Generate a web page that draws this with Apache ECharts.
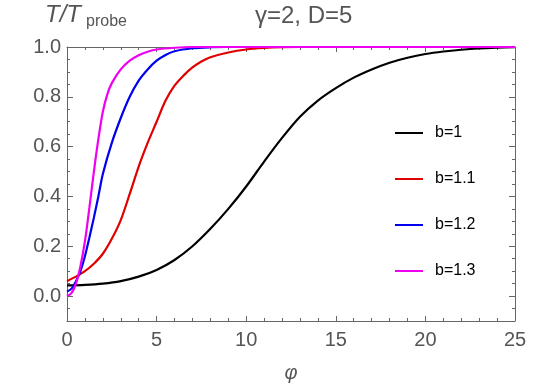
<!DOCTYPE html>
<html>
<head>
<meta charset="utf-8">
<script src="https://cdn.jsdelivr.net/npm/echarts@6/dist/echarts.min.js"></script>
<style>
  html, body { margin: 0; padding: 0; background: #fff; }
  #chart { width: 540px; height: 388px; }
</style>
</head>
<body>
<div id="chart"></div>
<script>
// values, [phi, T/Tprobe]
var seriesNames = ['b=1', 'b=1.1', 'b=1.2', 'b=1.3'];
var seriesColors = ['#000000', '#e00000', '#0000f0', '#f000f0'];

var curveB10 = [[0, 0.043], [1, 0.045], [2, 0.05], [3, 0.06], [4, 0.078], [5, 0.105], [6, 0.145],
  [7, 0.2], [8, 0.27], [9, 0.35], [10, 0.44], [11, 0.54], [12, 0.635], [13, 0.72], [14, 0.785],
  [15, 0.835], [16, 0.877], [17, 0.91], [18, 0.937], [19, 0.957], [20, 0.972], [21, 0.982],
  [22, 0.989], [23, 0.994], [24, 0.997], [25, 0.999]];
var curveB11 = [[0, 0.06], [0.5, 0.078], [1, 0.1], [1.5, 0.13], [2, 0.17], [2.5, 0.23], [3, 0.305],
  [3.5, 0.41], [4, 0.52], [4.5, 0.615], [5, 0.7], [5.5, 0.785], [6, 0.845], [6.5, 0.885], [7, 0.918],
  [7.5, 0.942], [8, 0.959], [9, 0.978], [10, 0.99], [11, 0.996], [12, 0.999], [13, 1], [25, 1]];
var curveB12 = [[0, 0.018], [0.25, 0.03], [0.5, 0.06], [0.75, 0.1], [1, 0.16], [1.25, 0.235],
  [1.5, 0.315], [1.75, 0.4], [2, 0.49], [2.5, 0.615], [3, 0.715], [3.5, 0.8], [4, 0.865], [4.5, 0.91],
  [5, 0.945], [5.5, 0.968], [6, 0.983], [7, 0.995], [8, 0.999], [9, 1], [25, 1]];
var curveB13 = [[0, 0.0], [0.25, 0.012], [0.5, 0.05], [0.75, 0.12], [1, 0.22], [1.25, 0.355],
  [1.5, 0.5], [1.75, 0.63], [2, 0.74], [2.25, 0.81], [2.5, 0.855], [3, 0.91], [3.5, 0.945], [4, 0.967],
  [4.5, 0.981], [5, 0.99], [6, 0.997], [7, 1], [25, 1]];
var curves = [curveB10, curveB11, curveB12, curveB13];

// axis ticks
var yMajorTicks = [0, 0.2, 0.4, 0.6, 0.8, 1.0];
var yMinorTicks = [-0.05, 0.05, 0.1, 0.15, 0.25, 0.3, 0.35, 0.45, 0.5, 0.55, 0.65, 0.7, 0.75, 0.85, 0.9, 0.95];

var frameColor = '#666666';
var textColor = '#555555';
var fontFamily = '"Liberation Sans", Arial, sans-serif';

var chart = echarts.init(document.getElementById('chart'), null, { renderer: 'canvas' });

function makeXAxis(pos, showLabel) {
  return {
    type: 'value',
    position: pos,
    min: 0,
    max: 25,
    interval: 5,
    name: showLabel ? 'φ' : '',
    nameLocation: 'middle',
    nameGap: 42,
    nameTextStyle: { fontSize: 20, fontStyle: 'italic', color: textColor, fontFamily: fontFamily },
    axisLine: { show: true, onZero: false, lineStyle: { color: frameColor, width: 1 } },
    axisTick: { show: true, inside: true, length: 5, lineStyle: { color: frameColor } },
    minorTick: { show: true, splitNumber: 5, length: 3, lineStyle: { color: frameColor } },
    axisLabel: { show: showLabel, margin: 9, fontSize: 20, color: textColor, fontFamily: fontFamily },
    splitLine: { show: false },
    minorSplitLine: { show: false }
  };
}

function makeYAxis(pos, ticks, len, showLine, showLabel) {
  return {
    type: 'value',
    position: pos,
    min: -0.1,
    max: 1.0,
    axisLine: { show: showLine, onZero: false, lineStyle: { color: frameColor, width: 1 } },
    axisTick: { show: true, inside: true, length: len, customValues: ticks, lineStyle: { color: frameColor } },
    axisLabel: {
      show: showLabel,
      customValues: ticks,
      margin: 6,
      fontSize: 20,
      color: textColor,
      fontFamily: fontFamily,
      formatter: function (v) { return Number(v).toFixed(1); }
    },
    splitLine: { show: false }
  };
}

var series = curves.map(function (data, i) {
  return {
    name: seriesNames[i],
    type: 'line',
    data: data,
    xAxisIndex: 0,
    yAxisIndex: 0,
    showSymbol: false,
    smooth: 0.3,
    clip: false,
    lineStyle: { color: seriesColors[i], width: 2.2 },
    itemStyle: { color: seriesColors[i] }
  };
});

var option = {
  animation: false,
  backgroundColor: '#ffffff',
  grid: { left: 67, right: 25, top: 47, bottom: 65, containLabel: false },
  xAxis: [makeXAxis('bottom', true), makeXAxis('top', false)],
  yAxis: [
    makeYAxis('left', yMajorTicks, 6, true, true),
    makeYAxis('left', yMinorTicks, 3, false, false),
    makeYAxis('right', yMajorTicks, 6, true, false),
    makeYAxis('right', yMinorTicks, 3, false, false)
  ],
  legend: {
    orient: 'vertical',
    left: 390,
    top: 119,
    icon: 'rect',
    itemWidth: 28,
    itemHeight: 2,
    itemGap: 28,
    textStyle: { fontSize: 16, lineHeight: 18, color: '#000', fontFamily: fontFamily, padding: [0, 0, 0, 7] },
    data: seriesNames
  },
  graphic: [
    {
      type: 'text', left: 255, top: 4,
      style: { text: 'γ=2, D=5', fontSize: 24, fill: textColor, fontFamily: fontFamily }
    },
    {
      type: 'text', left: 45, top: 3,
      style: { text: 'T/T', fontSize: 24, fontStyle: 'italic', fill: textColor, fontFamily: fontFamily }
    },
    {
      type: 'text', left: 86, top: 14,
      style: { text: 'probe', fontSize: 16, fill: textColor, fontFamily: fontFamily }
    }
  ],
  series: series
};

chart.setOption(option);
</script>
</body>
</html>
